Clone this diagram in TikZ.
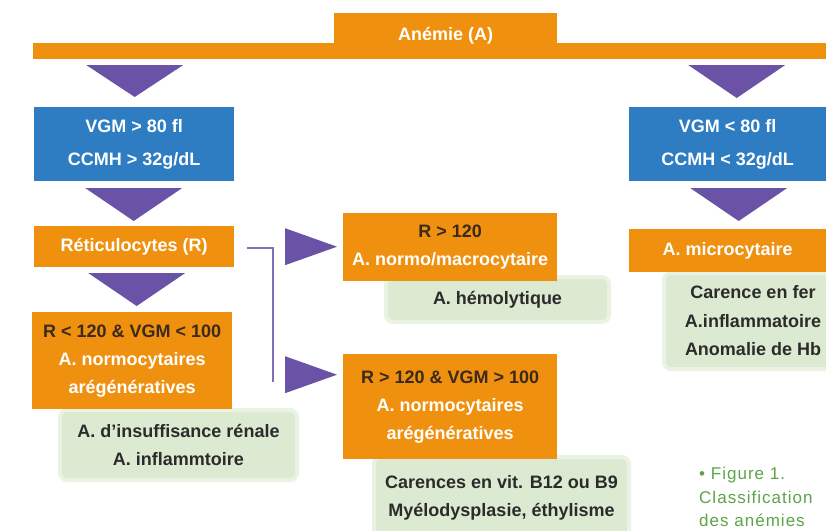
\documentclass[tikz,border=0pt]{standalone}
\usepackage{fontspec}
\setmainfont{Liberation Sans}
\usetikzlibrary{calc}
\definecolor{orng}{HTML}{F0900F}
\definecolor{blu}{HTML}{2E7CC2}
\definecolor{purp}{HTML}{6A52A6}
\definecolor{lgreen}{HTML}{DDEAD2}
\definecolor{lgreenedge}{HTML}{EAF2E4}
\definecolor{dark}{HTML}{3A2A1C}
\definecolor{gtext}{HTML}{2B2B2B}
\definecolor{capgreen}{HTML}{5DA34A}
\definecolor{connc}{HTML}{7E70B8}
\begin{document}
\begin{tikzpicture}[x=1pt,y=-1pt,
  box/.style={inner sep=0pt, align=center, anchor=north west, text=white,
    font=\bfseries\fontsize{18}{28}\selectfont},
  obox/.style={box, fill=orng},
  bbox/.style={box, fill=blu, font=\bfseries\fontsize{18}{33}\selectfont},
  gbox/.style={box, fill=lgreen, draw=lgreenedge, line width=4pt, rounded corners=7pt, text=gtext,
    font=\bfseries\fontsize{18}{28.5}\selectfont},
  tri/.style={fill=purp},
  conn/.style={draw=connc, line width=1.8pt},
  cond/.style={text=dark}]
\useasboundingbox (0,0) rectangle (826,530);
\fill[white] (0,0) rectangle (826,530);

% top
\node[obox, minimum width=800, minimum height=16] (bar) at (33,43) {};
\node[obox, minimum width=223, minimum height=46] (anemie) at (334,13) {Anémie (A)};

% left column
\node[bbox, minimum width=200, minimum height=74] (b1) at (34,107) {VGM > 80 fl\\CCMH > 32g/dL};
\node[obox, minimum width=200, minimum height=41] (ret) at (34,226) {Réticulocytes (R)};
\node[gbox, minimum width=237, minimum height=70] (g1) at (58,408) {A. d'insuffisance rénale\\A. inflammtoire};
\node[obox, minimum width=200, minimum height=97] (r1) at (32,312) {\textcolor{dark}{R < 120 \& VGM < 100}\\A. normocytaires\\arégénératives};

% middle column
\node[gbox, minimum width=223, minimum height=45] (g2) at (384,275) {A. hémolytique};
\node[obox, minimum width=214, minimum height=68] (r2) at (343,213) {\textcolor{dark}{R > 120}\\A. normo/macrocytaire};
\node[gbox, minimum width=255, minimum height=82] (g3) at (372,455) {Carences en vit. B12 ou B9\\Myélodysplasie, éthylisme};
\node[obox, minimum width=214, minimum height=105] (r3) at (343,354) {\textcolor{dark}{R > 120 \& VGM > 100}\\A. normocytaires\\arégénératives};

% right column
\node[bbox, minimum width=197, minimum height=74] (b2) at (629,107) {VGM < 80 fl\\CCMH < 32g/dL};
\node[gbox, minimum width=178, minimum height=96] (g4) at (662,271) {Carence en fer\\A.inflammatoire\\Anomalie de Hb};
\node[obox, minimum width=197, minimum height=43] (micro) at (629,229) {A. microcytaire};

% down triangles
\fill[tri] ($(b1.north)+(-48,-42)$) -- ($(b1.north)+(49,-42)$) -- ($(b1.north)+(0.5,-10)$) -- cycle;
\fill[tri] ($(ret.north)+(-49,-38)$) -- ($(ret.north)+(48,-38)$) -- ($(ret.north)+(-0.5,-5)$) -- cycle;
\fill[tri] ($(r1.north)+(-44,-39)$) -- ($(r1.north)+(53,-39)$) -- ($(r1.north)+(4.5,-6)$) -- cycle;
\fill[tri] ($(b2.north)+(-39.5,-42)$) -- ($(b2.north)+(57.5,-42)$) -- ($(b2.north)+(9,-9)$) -- cycle;
\fill[tri] ($(micro.north)+(-37.5,-41)$) -- ($(micro.north)+(59.5,-41)$) -- ($(micro.north)+(11,-8)$) -- cycle;

% connector
\coordinate (c1) at ($(ret.east)+(13,1.5)$);
\coordinate (c2) at (273,382);
\draw[conn] (c1) -| (c2);

% right triangles
\fill[tri] ($(r2.west)+(-58,-19)$) -- ($(r2.west)+(-58,18)$) -- ($(r2.west)+(-6,-0.5)$) -- cycle;
\fill[tri] ($(r3.west)+(-58,-50.5)$) -- ($(r3.west)+(-58,-13.5)$) -- ($(r3.west)+(-6,-32)$) -- cycle;

% caption
\node[anchor=north west, inner sep=0pt, align=left, text=capgreen,
  font=\addfontfeature{LetterSpace=6}\fontsize{17}{23.5}\selectfont] (cap) at (699,467)
  {• Figure 1.\\Classification\\des anémies};
\end{tikzpicture}
\end{document}
